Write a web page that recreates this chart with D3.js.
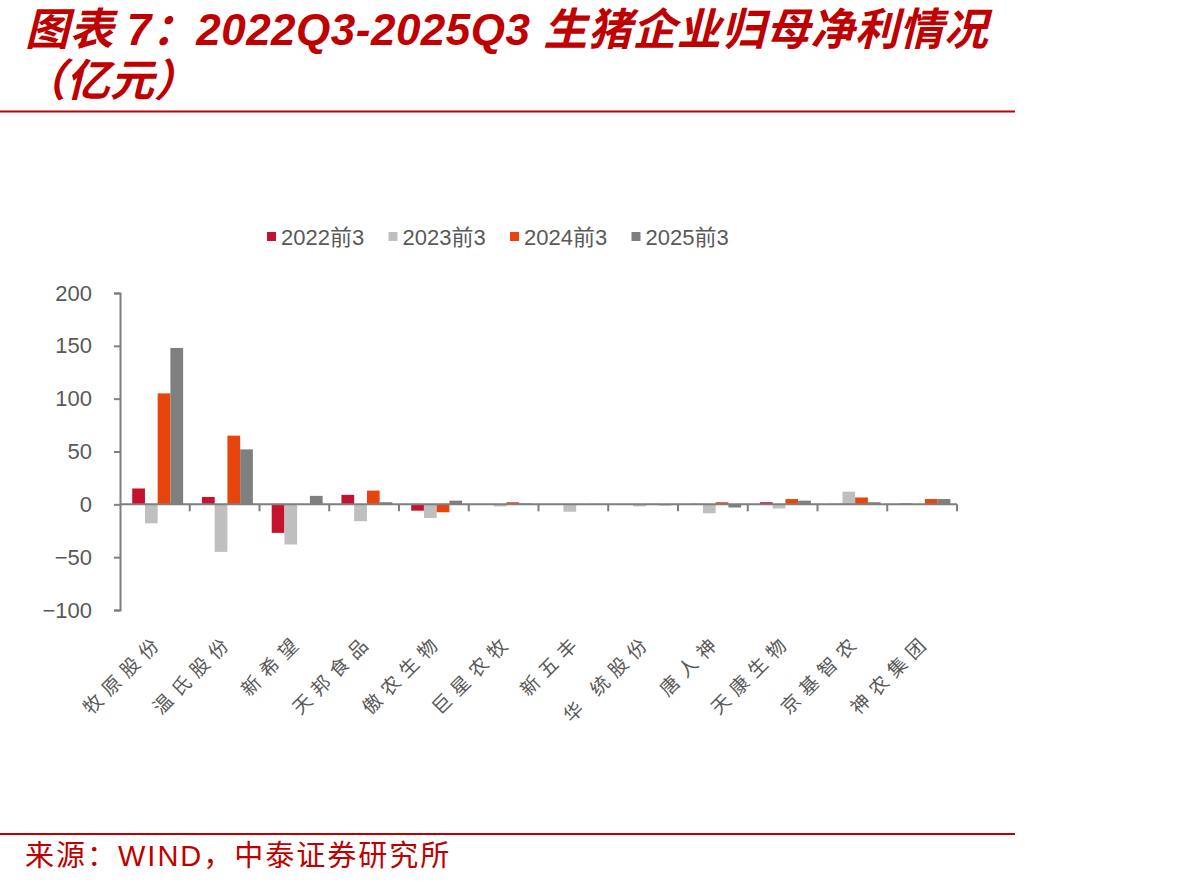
<!DOCTYPE html>
<html>
<head>
<meta charset="utf-8">
<script src="https://cdn.jsdelivr.net/npm/d3@7"></script>
<style>
  body { margin: 0; background: #fff; }
  text { font-family: "Liberation Sans", "Noto Sans CJK SC", sans-serif; }
</style>
</head>
<body>
<script>
// 2022Q3-2025Q3 生猪企业归母净利 (亿元)
var companies = ["牧原股份", "温氏股份", "新希望", "天邦食品", "傲农生物", "巨星农牧",
                 "新五丰", "华 统股份", "唐人神", "天康生物", "京基智农", "神农集团"];
var seriesNames = ["2022前3", "2023前3", "2024前3", "2025前3"];
var v2022 = [15, 7, -27, 9, -6, -0.5, 0.3, -0.5, 0.5, 2, 0.5, 0.8];
var v2023 = [-18, -45, -38, -16, -13, -2, -7, -2, -8.5, -4, 12, -0.5];
var v2024 = [105, 65, -0.5, 13, -7.5, 2, 0.3, 0.5, 2, 5, 6.5, 5];
var v2025 = [148, 52, 8, 2, 3.5, 0.8, 0.5, -1, -3, 3.5, 2, 5];
var yTicks = [-100, -50, 0, 50, 100, 150, 200];
var colors = ["#C4122F", "#BFBFBF", "#E8450C", "#7F7F7F"];

var allSeries = [v2022, v2023, v2024, v2025];
var data = companies.map(function(c, i){
    return {name: c, values: allSeries.map(function(s, k){ return {key: seriesNames[k], value: s[i]}; })};
});

var W = 1193, H = 888;
var svg = d3.select("body").append("svg")
    .attr("width", W)
    .attr("height", H);

var red = "#C00000";

// title
svg.append("text")
    .attr("x", 25).attr("y", 45)
    .attr("fill", red)
    .style("font-size", "44px")
    .style("font-weight", "bold")
    .style("font-style", "italic")
    .style("letter-spacing", "0.5px")
    .text("图表 7：2022Q3-2025Q3 生猪企业归母净利情况");
svg.append("text")
    .attr("x", 22).attr("y", 96)
    .attr("fill", red)
    .style("font-size", "44px")
    .style("font-weight", "bold")
    .style("font-style", "italic")
    .text("（亿元）");

svg.append("line")
    .attr("x1", 0).attr("x2", 1015)
    .attr("y1", 111.5).attr("y2", 111.5)
    .attr("stroke", red).attr("stroke-width", 2);

svg.append("line")
    .attr("x1", 0).attr("x2", 1015)
    .attr("y1", 834).attr("y2", 834)
    .attr("stroke", red).attr("stroke-width", 2);

svg.append("text")
    .attr("x", 25).attr("y", 866)
    .attr("fill", red)
    .style("font-size", "29px")
    .style("letter-spacing", "2px")
    .text("来源：WIND，中泰证券研究所");

//scales
var x = d3.scaleBand()
    .domain(companies)
    .range([120, 957])
    .padding(0);

var x1 = d3.scaleBand()
    .domain(seriesNames)
    .range([x.bandwidth() * 0.175, x.bandwidth() * 0.905])
    .padding(0);

var y = d3.scaleLinear()
    .domain([-100, 200])
    .range([610, 293]);

var axisColor = "#7F7F7F";

// bars
var groups = svg.selectAll(".grp")
    .data(data)
    .enter().append("g")
    .attr("class", "grp")
    .attr("transform", function(d){ return "translate(" + x(d.name) + ",0)"; });

groups.selectAll("rect")
    .data(function(d){ return d.values; })
    .enter().append("rect")
    .attr("x", function(d){ return x1(d.key); })
    .attr("width", x1.bandwidth())
    .attr("y", function(d){ return y(Math.max(0, d.value)); })
    .attr("height", function(d){ return Math.abs(y(d.value) - y(0)); })
    .attr("fill", function(d, i){ return colors[i]; });

// y axis
var yAxis = svg.append("g")
    .attr("transform", "translate(120,0)")
    .call(d3.axisLeft(y).tickValues(yTicks).tickSize(6).tickPadding(22));
yAxis.select(".domain").attr("stroke", axisColor).attr("stroke-width", 2);
yAxis.selectAll(".tick line").attr("stroke", axisColor).attr("stroke-width", 2);
yAxis.selectAll(".tick text")
    .attr("fill", "#595959")
    .style("font-size", "22px")
    .style("font-family", "'Liberation Sans', Arial, sans-serif");

// x axis at zero
var x0 = y(0);
svg.append("line")
    .attr("x1", 120).attr("x2", 957)
    .attr("y1", x0).attr("y2", x0)
    .attr("stroke", axisColor).attr("stroke-width", 2);

var bounds = companies.map(function(c){ return x(c); }).slice(1).concat([x.range()[1]]);
svg.selectAll(".xtick")
    .data(bounds)
    .enter().append("line")
    .attr("class", "xtick")
    .attr("x1", function(d){ return d; }).attr("x2", function(d){ return d; })
    .attr("y1", x0).attr("y2", x0 + 7)
    .attr("stroke", axisColor).attr("stroke-width", 2);

// category labels, rotated
var ls = 7;
svg.selectAll(".xlab")
    .data(companies)
    .enter().append("text")
    .attr("class", "xlab")
    .attr("text-anchor", "end")
    .attr("transform", function(d){
        var cx = x(d) + x.bandwidth() / 2 + 5 + ls * 0.707;
        return "translate(" + cx + "," + (647 - ls * 0.707) + ") rotate(-45)";
    })
    .attr("fill", "#595959")
    .style("font-size", "19px")
    .style("letter-spacing", ls + "px")
    .style("font-family", "'Noto Sans CJK SC', sans-serif")
    .text(function(d){ return d; });

// legend
var legend = svg.selectAll(".leg")
    .data(seriesNames)
    .enter().append("g")
    .attr("class", "leg")
    .attr("transform", function(d, i){ return "translate(" + (267 + i * 121.5) + ",237)"; });
legend.append("rect")
    .attr("x", 0).attr("y", -5)
    .attr("width", 9).attr("height", 9)
    .attr("fill", function(d, i){ return colors[i]; });
legend.append("text")
    .attr("x", 14).attr("y", 8)
    .attr("fill", "#595959")
    .style("font-size", "22px")
    .text(function(d){ return d; });
</script>
</body>
</html>
